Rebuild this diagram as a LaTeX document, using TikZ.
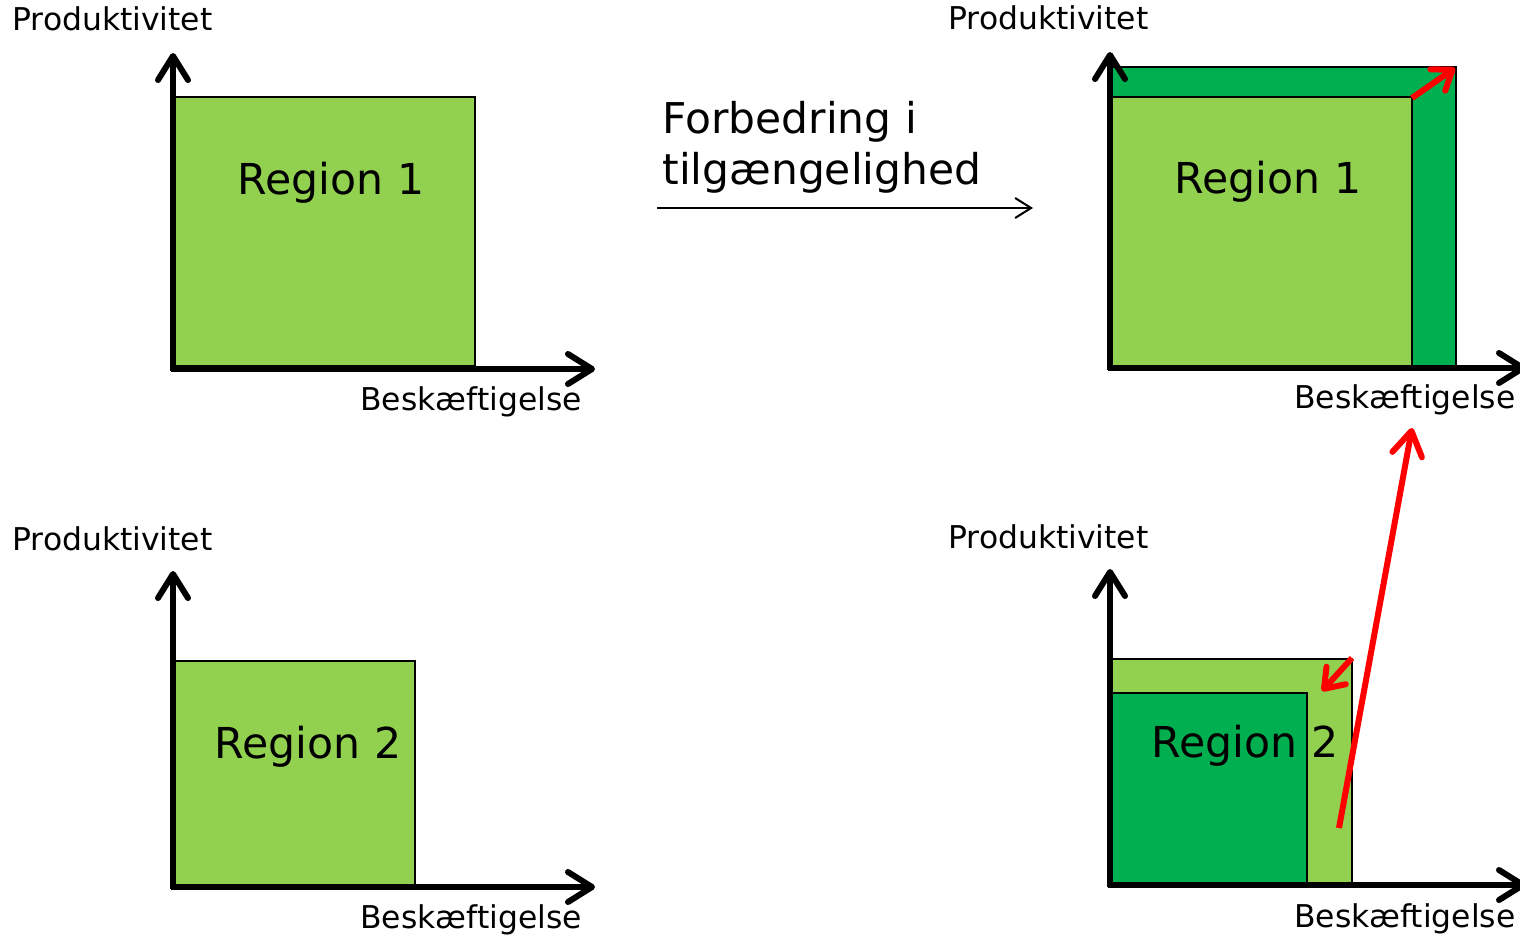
\documentclass[tikz,border=0pt]{standalone}
\usepackage{fontspec}
\setmainfont{DejaVu Sans}
\usetikzlibrary{arrows.meta}
\definecolor{lightgr}{HTML}{92D050}
\definecolor{darkgr}{HTML}{00B050}
\definecolor{redc}{HTML}{FF0000}
\tikzset{
  axis/.style={line width=3pt, -{Straight Barb[length=12pt,width=15pt,round]}},
  lightbox/.style={fill=lightgr, draw=black, line width=0.75pt},
  darkbox/.style={fill=darkgr, draw=black, line width=0.75pt},
  axlabel/.style={font=\fontsize{15.7pt}{19pt}\selectfont, inner sep=0pt, anchor=base west},
  regionlabel/.style={font=\fontsize{21.3pt}{25pt}\selectfont, inner sep=0pt, anchor=base},
  midlabel/.style={font=\fontsize{21.2pt}{25.5pt}\selectfont, inner sep=0pt, anchor=base west},
  redarrow/.style={draw=redc, line width=3pt, -{Straight Barb[length=9pt,width=13pt,round]}},
  bigredarrow/.style={draw=redc, line width=3pt, -{Straight Barb[length=12pt,width=15pt,round]}},
}
\begin{document}
\begin{tikzpicture}[x=0.5pt,y=-0.5pt]
\useasboundingbox (0,0) rectangle (1520,937);
\clip (0,0) rectangle (1520,937);

% ---------- Panel top-left ----------
\draw[lightbox] (175,97) rectangle (475,366);
\node[regionlabel] (r1a) at (331,194) {Region 1};
\coordinate (o1) at (173,371);
\coordinate (y1) at (173,53);
\coordinate (h1s) at (171,369);
\coordinate (x1) at (595,369);
\draw[axis] (o1) -- (y1);
\draw[axis] (h1s) -- (x1);
\node[axlabel] (p1) at (12,31) {Produktivitet};
\node[axlabel] (b1) at (360,410) {Beskæftigelse};

% ---------- Panel bottom-left ----------
\draw[lightbox] (175,661) rectangle (415,885);
\node[regionlabel] (r2a) at (308,758) {Region 2};
\coordinate (o2) at (173,889);
\coordinate (y2) at (173,571);
\coordinate (h2s) at (171,887);
\coordinate (x2) at (595,887);
\draw[axis] (o2) -- (y2);
\draw[axis] (h2s) -- (x2);
\node[axlabel] (p2) at (12,550) {Produktivitet};
\node[axlabel] (b2) at (360,928) {Beskæftigelse};

% ---------- Middle text and arrow ----------
\node[midlabel] (f1) at (662,133) {Forbedring i};
\node[midlabel] (f2) at (662,184) {tilgængelighed};
\coordinate (ms) at (657,208);
\coordinate (me) at (1033,208);
\draw[line width=1pt, -{Straight Barb[length=8pt,width=10pt]}] (ms) -- (me);

% ---------- Panel top-right ----------
\draw[darkbox] (1112,67) rectangle (1456,366);
\draw[lightbox] (1112,97) rectangle (1412,366);
\node[regionlabel] (r1b) at (1268,193) {Region 1};
\coordinate (o3) at (1110,370);
\coordinate (y3) at (1110,52);
\coordinate (h3s) at (1108,368);
\coordinate (x3) at (1526,368);
\draw[axis] (o3) -- (y3);
\draw[axis] (h3s) -- (x3);
\node[axlabel] (p3) at (948,29) {Produktivitet};
\node[axlabel, anchor=base east] (b3) at (1516,408) {Beskæftigelse};
\coordinate (ra1s) at (1412,98);
\coordinate (ra1e) at (1455,68);
\draw[redarrow] (ra1s) -- (ra1e);

% ---------- Panel bottom-right ----------
\draw[lightbox] (1112,659) rectangle (1352,883);
\draw[darkbox] (1112,693) rectangle (1307,883);
\node[regionlabel] (r2b) at (1245,757) {Region 2};
\coordinate (o4) at (1110,887);
\coordinate (y4) at (1110,569);
\coordinate (h4s) at (1108,885);
\coordinate (x4) at (1526,885);
\draw[axis] (o4) -- (y4);
\draw[axis] (h4s) -- (x4);
\node[axlabel] (p4) at (948,548) {Produktivitet};
\node[axlabel, anchor=base east] (b4) at (1516,927) {Beskæftigelse};
\coordinate (ra2s) at (1352,658);
\coordinate (ra2e) at (1322,691);
\draw[redarrow] (ra2s) -- (ra2e);
\coordinate (ra3s) at (1339,828);
\coordinate (ra3e) at (1412,428);
\draw[bigredarrow] (ra3s) -- (ra3e);
\end{tikzpicture}
\end{document}
